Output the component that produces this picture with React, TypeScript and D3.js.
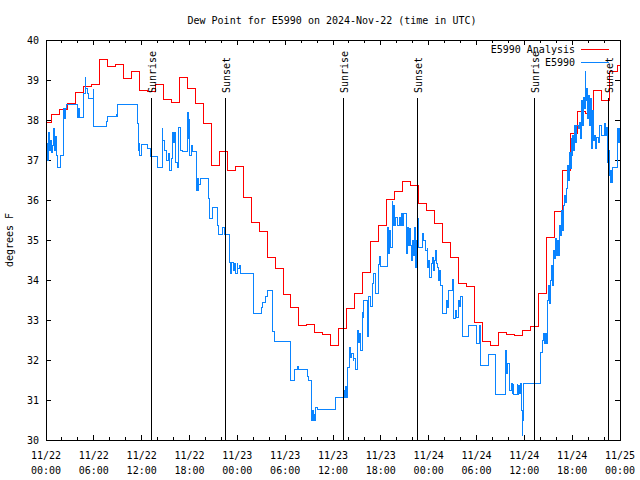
import React from "react";
import * as d3 from "d3";

const W = 640;
const H = 480;
const PLOT = { left: 46, right: 620, top: 40, bottom: 440 };
const FONT = "'DejaVu Sans Mono', 'Liberation Mono', monospace";

const titleText = "Dew Point for E5990 on 2024-Nov-22 (time in UTC)";
const yLabelText = "degrees F";
const seriesNames = ["E5990 Analysis", "E5990"];
const seriesColors = ["#ff0000", "#0a84ff"];

const startUTC = Date.UTC(2024, 10, 22, 0, 0);
const endUTC = Date.UTC(2024, 10, 25, 0, 0);
const yDomain = [30, 40];
const yTickValues = [30, 31, 32, 33, 34, 35, 36, 37, 38, 39, 40];

// Analysis: hourly values, first value valid from 11/21 23:40 UTC
const redStartUTC = Date.UTC(2024, 10, 21, 23, 40);
const redValues = [
  37.96, 38.14, 38.27, 38.43, 38.71, 38.85, 38.9, 39.52, 39.35, 39.39,
  39.04, 39.22, 38.74, 38.73, 38.9, 38.53, 38.44, 39.07, 38.79, 38.43,
  37.93, 36.87, 37.23, 36.75, 36.85, 36.07, 35.45, 35.22, 34.57, 34.3,
  33.64, 33.33, 32.87, 32.89, 32.69, 32.65, 32.37, 32.79, 33.29, 33.68,
  34.19, 34.98, 35.37, 36.02, 36.23, 36.48, 36.38, 35.92, 35.75, 35.42,
  34.95, 34.58, 33.93, 33.85, 32.94, 32.48, 32.38, 32.69, 32.65, 32.63,
  32.75, 32.85, 33.67, 35.07, 35.72, 36.74, 37.67, 38.23, 38.18, 38.74,
  38.49, 39.22, 39.37,
];

// Observations: hours after 11/22 00:00 UTC and values
const blueHours = [
  0, 0.13, 0.25, 0.38, 0.5, 0.63, 0.75, 0.88, 1.0, 1.13, 1.25, 1.38, 1.72,
  2.17, 2.26, 2.38, 2.57, 3.85, 4.01, 4.14, 4.68, 4.83, 4.95, 5.2, 5.33, 5.86,
  5.93, 7.49, 7.69, 8.72, 8.78, 8.86, 11.38, 11.5, 11.6, 11.7, 11.88, 12.7,
  13.05, 13.96, 14.5, 14.6, 14.85, 15.05, 15.34, 15.49, 15.62, 15.77, 15.93,
  16.06, 16.18, 16.37, 16.6, 16.75, 16.87, 17.02, 17.65, 17.75, 17.88, 17.98,
  18.13, 18.28, 18.78, 18.94, 19.07, 19.1, 19.32, 20.36, 20.5, 20.79, 21.41,
  21.6, 22.13, 22.33, 22.91, 23.08, 23.2, 23.49, 23.64, 23.77, 23.9, 24.02,
  24.15, 24.34, 25.93, 26.97, 27.13, 27.47, 27.68, 28.35, 28.64, 30.61, 31.15,
  31.45, 31.57, 32.7, 32.9, 33.2, 33.28, 33.37, 33.45, 33.56, 33.66, 33.74,
  33.95, 36.22, 37.29, 37.38, 37.48, 37.57, 37.72, 37.97, 38.13, 38.32, 38.45,
  38.55, 38.76, 38.98, 39.14, 39.26, 39.39, 39.6, 39.7, 39.8, 40.23, 40.33,
  40.43, 40.64, 40.86, 41.06, 41.27, 41.68, 41.79, 41.9, 42.81, 42.94, 43.05,
  43.18, 43.36, 43.46, 43.57, 43.67, 43.78, 44.03, 44.22, 44.41, 44.53, 44.66,
  44.82, 45.16, 45.28, 45.41, 45.53, 45.66, 45.79, 45.91, 46.08, 46.19, 46.29,
  46.42, 46.5, 46.6, 46.7, 47.13, 47.33, 47.54, 47.75, 47.85, 47.95, 48.1,
  48.23, 48.38, 48.55, 48.67, 48.8, 48.92, 49.01, 49.17, 49.3, 49.42, 49.64,
  50.14, 50.3, 50.46, 50.89, 51.09, 51.3, 51.49, 51.72, 51.83, 51.93, 52.15,
  52.98, 53.9, 54.32, 54.39, 54.44, 55.41, 56.33, 57.58, 57.71, 57.79, 58.12,
  58.27, 58.4, 58.52, 58.62, 59.02, 59.08, 59.25, 59.37, 59.5, 59.58, 59.67,
  59.75, 59.87, 61.97, 62.18, 62.28, 62.41, 62.53, 62.66, 62.88, 63.03, 63.12,
  63.22, 63.35, 63.47, 63.6, 63.72, 63.85, 63.97, 64.1, 64.22, 64.35, 64.47,
  64.6, 64.72, 64.85, 64.98, 65.1, 65.23, 65.35, 65.48, 65.58, 65.67, 65.8,
  65.92, 66.02, 66.1, 66.23, 66.36, 66.48, 66.67, 66.86, 66.98, 67.11, 67.24,
  67.36, 67.49, 67.57, 67.65, 67.74, 67.86, 67.99, 68.11, 68.24, 68.36, 68.49,
  68.61, 68.74, 68.87, 68.99, 69.18, 69.37, 69.62, 70.0, 70.08, 70.25, 70.37,
  70.5, 70.59, 70.69, 70.79, 70.9, 71.0, 71.63, 71.75, 71.88,
];
const blueValues = [
  37.43, 37.0, 37.7, 37.25, 37.5, 37.2, 37.38, 37.8, 37.25, 37.6, 37.13, 36.83,
  37.13, 38.3, 38.05, 38.3, 38.4, 38.08, 38.3, 38.08, 38.68, 39.1, 38.8, 38.68,
  38.55, 38.8, 37.85, 37.98, 38.1, 38.18, 38.1, 38.4, 37.93, 37.25, 37.43,
  37.13, 37.4, 37.3, 37.11, 36.83, 37.83, 37.5, 37.25, 37.0, 37.18, 36.75,
  37.05, 37.7, 37.45, 37.7, 36.95, 36.83, 37.83, 37.5, 37.25, 37.23, 38.2,
  37.55, 38.05, 37.13, 37.38, 37.23, 36.25, 36.55, 36.25, 36.4, 36.54, 36.05,
  35.55, 35.83, 35.38, 35.15, 35.33, 35.15, 34.45, 34.18, 34.45, 34.25, 34.43,
  34.18, 34.45, 34.3, 34.38, 34.18, 33.18, 33.33, 33.45, 33.6, 33.75, 32.73,
  32.48, 31.5, 31.78, 31.85, 31.78, 31.6, 31.5, 30.7, 30.5, 30.75, 30.5, 30.68,
  30.5, 30.83, 30.78, 31.07, 31.25, 31.08, 31.35, 31.08, 31.83, 32.33, 32.08,
  32.18, 32.0, 32.05, 31.78, 32.75, 32.45, 32.68, 32.25, 33.23, 33.08, 33.5,
  32.6, 32.93, 33.6, 33.35, 33.93, 34.18, 33.68, 34.4, 34.6, 34.35, 35.33,
  34.68, 35.25, 34.83, 36.0, 35.38, 35.88, 35.38, 35.58, 35.38, 35.58, 35.38,
  35.68, 35.38, 35.68, 34.68, 35.33, 34.88, 35.3, 34.88, 34.5, 35.0, 34.63,
  35.33, 34.33, 35.0, 35.55, 35.08, 34.83, 35.18, 35.0, 34.75, 34.83, 34.33,
  34.5, 34.08, 34.43, 34.58, 34.25, 34.5, 34.75, 34.43, 34.33, 34.0, 34.25,
  33.88, 33.18, 33.5, 33.33, 33.75, 34.03, 33.05, 33.25, 33.08, 33.5, 33.35,
  33.6, 32.6, 32.88, 32.43, 32.88, 31.93, 31.88, 32.15, 31.15, 32.25, 31.68,
  31.93, 31.25, 31.43, 31.18, 31.43, 31.15, 31.43, 31.15, 31.38, 31.18, 31.43,
  30.75, 30.13, 30.5, 31.43, 32.2, 32.5, 32.68, 32.43, 32.68, 32.43, 33.5,
  33.88, 33.43, 34.0, 34.38, 33.88, 34.75, 34.55, 35.05, 34.63, 35.0, 34.63,
  35.38, 35.13, 35.75, 35.25, 35.88, 36.13, 35.95, 36.3, 36.88, 36.5, 37.2,
  36.8, 37.55, 37.13, 37.63, 37.25, 37.88, 37.45, 37.88, 37.8, 37.95, 37.55,
  38.5, 37.88, 38.58, 38.3, 39.25, 38.5, 38.8, 38.05, 38.63, 37.88, 38.55,
  37.3, 38.25, 37.5, 37.63, 37.3, 37.58, 37.45, 37.88, 37.63, 37.93, 37.63,
  37.83, 36.95, 37.25, 36.63, 36.45, 36.75, 36.45, 36.83, 37.8, 37.45, 37.8,
];

const sunLabels = ["Sunrise", "Sunset", "Sunrise", "Sunset", "Sunrise", "Sunset"];
const sunTimes = [
  "2024-11-22T13:14:00Z",
  "2024-11-22T22:29:00Z",
  "2024-11-23T13:14:00Z",
  "2024-11-23T22:29:00Z",
  "2024-11-24T13:14:00Z",
  "2024-11-24T22:29:00Z",
];

type Pt = { t: Date; v: number };

export default function App() {
  const x = d3
    .scaleUtc()
    .domain([new Date(startUTC), new Date(endUTC)])
    .range([PLOT.left, PLOT.right]);
  const y = d3.scaleLinear().domain(yDomain).range([PLOT.bottom, PLOT.top]);

  const redPts: Pt[] = redValues.map((v, i) => ({
    t: new Date(redStartUTC + i * 3600000),
    v,
  }));
  redPts.push({ t: new Date(endUTC + 3600000), v: redValues[redValues.length - 1] });

  const bluePts: Pt[] = blueHours.map((h, i) => ({
    t: new Date(startUTC + h * 3600000),
    v: blueValues[i],
  }));
  bluePts.push({ t: new Date(endUTC + 3600000), v: blueValues[blueValues.length - 1] });

  const line = d3
    .line<Pt>()
    .x((d) => Math.round(x(d.t)) + 0.5)
    .y((d) => Math.round(y(d.v)) + 0.5)
    .curve(d3.curveStepAfter);

  const majorTicks = x.ticks(d3.utcHour.every(6)!);
  const minorTicks = x.ticks(d3.utcHour.every(2)!);
  const fmtDate = d3.utcFormat("%m/%d");
  const fmtTime = d3.utcFormat("%H:%M");

  const majorLen = 5;
  const minorLen = 3;

  return (
    <svg
      width={W}
      height={H}
      viewBox={`0 0 ${W} ${H}`}
      style={{ position: "absolute", left: 0, top: 0, background: "#fff" }}
      fontFamily={FONT}
      fontSize={10}
    >
      <defs>
        <clipPath id="plotclip">
          <rect
            x={PLOT.left}
            y={PLOT.top}
            width={PLOT.right - PLOT.left}
            height={PLOT.bottom - PLOT.top}
          />
        </clipPath>
      </defs>
      <rect x={0} y={0} width={W} height={H} fill="#fff" />

      {/* title */}
      <text x={332} y={24} textAnchor="middle" fill="#000">
        {titleText}
      </text>

      {/* y label */}
      <text
        transform={`translate(13,240) rotate(-90)`}
        textAnchor="middle"
        fill="#000"
      >
        {yLabelText}
      </text>

      {/* ticks */}
      <g stroke="#000" strokeWidth={1} shapeRendering="crispEdges">
        {yTickValues.map((v) => (
          <g key={"y" + v}>
            <line x1={PLOT.left} x2={PLOT.left + majorLen} y1={y(v)} y2={y(v)} />
            <line x1={PLOT.right} x2={PLOT.right - majorLen} y1={y(v)} y2={y(v)} />
          </g>
        ))}
        {minorTicks.map((t) => {
          const isMajor = t.getUTCHours() % 6 === 0;
          const len = isMajor ? majorLen : minorLen;
          const xx = x(t);
          return (
            <g key={"x" + t.getTime()}>
              <line x1={xx} x2={xx} y1={PLOT.bottom} y2={PLOT.bottom - len} />
              <line x1={xx} x2={xx} y1={PLOT.top} y2={PLOT.top + len} />
            </g>
          );
        })}
      </g>

      {/* y tick labels */}
      {yTickValues.map((v) => (
        <text
          key={"yl" + v}
          x={39}
          y={y(v)}
          dy="0.35em"
          textAnchor="end"
          fill="#000"
        >
          {v}
        </text>
      ))}

      {/* x tick labels */}
      {majorTicks.map((t) => (
        <g key={"xl" + t.getTime()}>
          <text x={x(t)} y={459} textAnchor="middle" fill="#000">
            {fmtDate(t)}
          </text>
          <text x={x(t)} y={474} textAnchor="middle" fill="#000">
            {fmtTime(t)}
          </text>
        </g>
      ))}

      {/* data */}
      <g clipPath="url(#plotclip)" fill="none" shapeRendering="crispEdges">
        <path d={line(redPts) || ""} stroke={seriesColors[0]} strokeWidth={1} />
        <path d={line(bluePts) || ""} stroke={seriesColors[1]} strokeWidth={1} />
      </g>

      {/* sunrise / sunset */}
      {sunTimes.map((s, i) => {
        const xx = Math.round(x(new Date(s))) + 0.5;
        return (
          <g key={"sun" + i}>
            <line
              x1={xx}
              x2={xx}
              y1={98}
              y2={PLOT.bottom}
              stroke="#000"
              strokeWidth={1}
              shapeRendering="crispEdges"
            />
            <text
              transform={`translate(${xx + 1},93) rotate(-90)`}
              textAnchor="start"
              dominantBaseline="central"
              fill="#000"
            >
              {sunLabels[i]}
            </text>
          </g>
        );
      })}

      {/* legend */}
      {seriesNames.map((n, i) => {
        const ly = 49 + i * 13;
        return (
          <g key={"lg" + i}>
            <text x={575} y={ly} dy="0.35em" textAnchor="end" fill="#000">
              {n}
            </text>
            <line
              x1={581}
              x2={609}
              y1={ly + 0.5}
              y2={ly + 0.5}
              stroke={seriesColors[i]}
              strokeWidth={1}
              shapeRendering="crispEdges"
            />
          </g>
        );
      })}

      {/* frame */}
      <rect
        x={PLOT.left + 0.5}
        y={PLOT.top + 0.5}
        width={PLOT.right - PLOT.left}
        height={PLOT.bottom - PLOT.top}
        fill="none"
        stroke="#000"
        strokeWidth={1}
        shapeRendering="crispEdges"
      />
    </svg>
  );
}
